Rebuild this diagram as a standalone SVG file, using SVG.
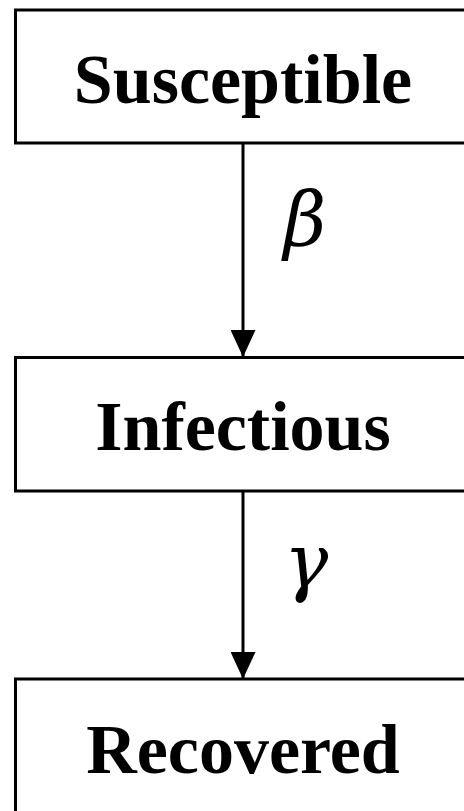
<svg xmlns="http://www.w3.org/2000/svg" width="464" height="811" viewBox="0 0 464 811">
<style>
.box{fill:#fff;stroke:#000;stroke-width:3}
.lbl{font-family:"Liberation Serif","Times New Roman",serif;font-weight:bold;font-size:70px;fill:#000;text-anchor:middle}
.sym{font-family:"DejaVu Serif","Liberation Serif",serif;font-style:italic;font-size:74px;fill:#000;text-anchor:middle}
.edge{stroke:#000;stroke-width:3;fill:none}
</style>
<defs>
<marker id="arr" markerWidth="27" markerHeight="25" refX="27" refY="12.5" orient="auto" markerUnits="userSpaceOnUse">
<path d="M0,0 L27,12.5 L0,25 Z" fill="#000"/>
</marker>
</defs>
<rect width="464" height="811" fill="#fff"/>
<g id="connectors">
<line class="edge" x1="243" y1="143" x2="243" y2="357" marker-end="url(#arr)"/>
<text class="sym" x="305" y="245">β</text>
<line class="edge" x1="243" y1="491" x2="243" y2="679" marker-end="url(#arr)"/>
<text class="sym" x="306" y="587">γ</text>
</g>
<g id="susceptible">
<rect class="box" x="15.5" y="10" width="470" height="133"/>
<text class="lbl" x="243" y="103">Susceptible</text>
</g>
<g id="infectious">
<rect class="box" x="15.5" y="357.5" width="470" height="133.5"/>
<text class="lbl" x="243" y="450">Infectious</text>
</g>
<g id="recovered">
<rect class="box" x="15.5" y="679" width="470" height="160"/>
<text class="lbl" x="243" y="773">Recovered</text>
</g>
</svg>
